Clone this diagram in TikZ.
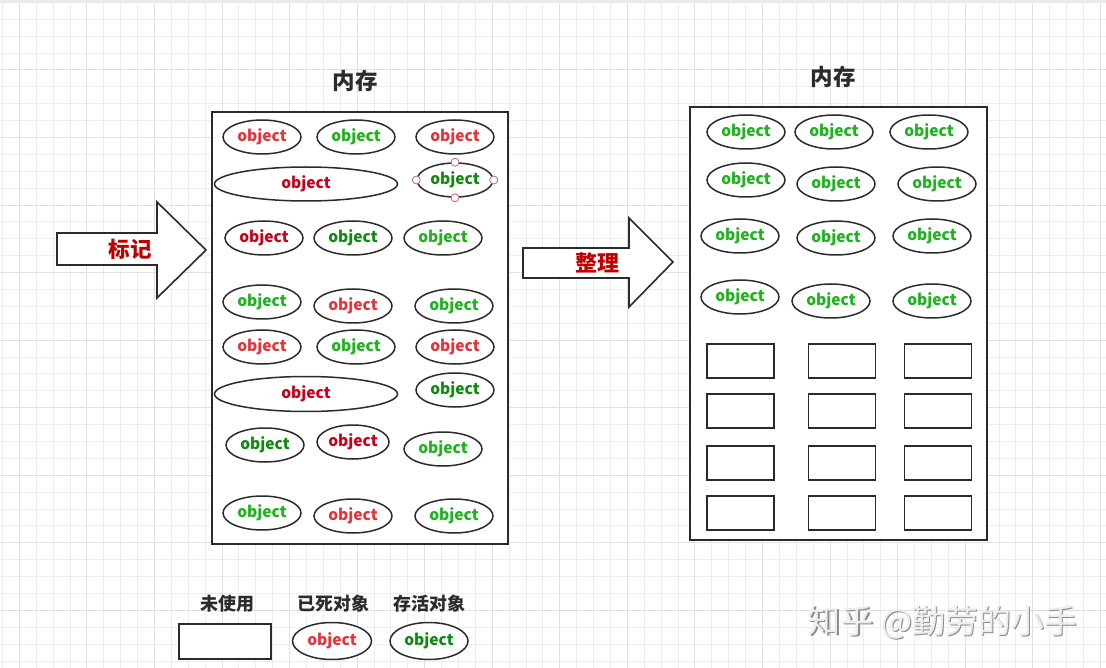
\documentclass[tikz,border=0pt]{standalone}
\usepackage{fontspec}
\setmainfont{Noto Sans CJK SC}
\usetikzlibrary{shapes.geometric}
\definecolor{deadred}{HTML}{E3343C}
\definecolor{deaddark}{HTML}{C8001A}
\definecolor{livegreen}{HTML}{1DB31D}
\definecolor{livedark}{HTML}{0F8A0F}
\definecolor{markred}{HTML}{C00000}
\definecolor{inkgray}{HTML}{2B2B2B}
\tikzset{
  gridminor/.style={draw=black!7,line width=0.8pt},
  gridmajor/.style={draw=black!12,line width=0.9pt},
  obj/.style={ellipse,draw=inkgray,line width=1.5pt,fill=white,minimum width=78pt,
    minimum height=34pt,inner sep=0pt,font=\fontsize{15.5}{15.5}\selectfont\bfseries},
  dead/.style={obj,text=deadred},
  deaddk/.style={obj,text=deaddark},
  live/.style={obj,text=livegreen},
  livedk/.style={obj,text=livedark},
  slot/.style={draw=inkgray,line width=1.5pt,fill=white,minimum width=67pt,
    minimum height=34pt,inner sep=0pt},
  membox/.style={draw=inkgray,line width=1.8pt,fill=white},
  bigarrow/.style={draw=inkgray,line width=1.6pt,fill=white,line join=miter},
  handle/.style={circle,draw=black!40!red!60,fill=white,line width=0.8pt,
    minimum size=8pt,inner sep=0pt},
  title/.style={text=inkgray,font=\fontsize{22.5}{22.5}\selectfont\bfseries},
  legend/.style={text=inkgray,font=\fontsize{18}{18}\selectfont\bfseries}
}
\begin{document}
\begin{tikzpicture}[x=1pt,y=-1pt]
  \useasboundingbox (0,0) rectangle (1106,668);
  \fill[white] (0,0) rectangle (1106,668);
  \foreach \k in {0,...,65} \draw[gridminor] ({2.4+16.89*\k},0) -- ++(0,668);
  \foreach \k in {0,...,39} \draw[gridminor] (0,{2.3+16.89*\k}) -- ++(1106,0);
  \foreach \k in {0,...,16} \draw[gridmajor] ({19.3+67.56*\k},0) -- ++(0,668);
  \foreach \k in {0,...,9} \draw[gridmajor] (0,{2.3+67.56*\k}) -- ++(1106,0);
  \fill[black!8] (0,0) rectangle (1106,3.5);

  % before
  \node[title] (t1) at (355,81) {内存};
  \draw[membox] (212,112) rectangle (508,544);
  \foreach \n/\x/\y/\s in {a1/262/137/dead, a2/356/137/live, a3/455/137/dead,
      c1/264/238/deaddk, c2/353/238/livedk, c3/443/238/live,
      d1/262/302/live, d2/353/306/dead, d3/454/306/live,
      e1/262/347/dead, e2/356/347/live, e3/455/347/dead,
      f2/455/390/livedk,
      g1/265/445/livedk, g3/443/449/live,
      h1/262/513/live, h2/353/516/dead, h3/454/516/live}
    \node[\s] (\n) at (\x,\y) {object};
  \node[deaddk,minimum width=183pt] (b1) at (306,184) {object};
  \node[livedk,minimum width=76pt] (b2) at (455,180) {object};
  \node[deaddk,minimum width=183pt,minimum height=35pt] (f1) at (306,394) {object};
  \node[deaddk,minimum width=72pt] (g2) at (353,442) {object};
  \foreach \a in {north,south,east,west} \node[handle] at (b2.\a) {};

  % after
  \node[title] (t2) at (833,77) {内存};
  \draw[membox] (690,107) rectangle (987,540);
  \foreach \n/\x/\y in {p1/746/132, p2/834/132, p3/929/132,
      q1/746/180, q2/836/184, q3/937/184,
      r1/740/236, r2/836/238, r3/932/236,
      s1/740/297, s2/831/301, s3/932/301}
    \node[live] (\n) at (\x,\y) {object};
  \foreach \x [count=\i] in {740.5,842,938}
    \foreach \y [count=\j] in {361,411,463,513}
      \node[slot] (u\i\j) at (\x,\y) {};

  % arrows
  \draw[bigarrow] (57,233) -- (157,233) -- (157,202) -- (206,250) -- (157,298)
    -- (157,265) -- (57,265) -- cycle;
  \node[text=markred,font=\fontsize{21.5}{21.5}\selectfont\bfseries] (mark) at (130,249) {标记};
  \draw[bigarrow] (523,248) -- (629,248) -- (629,218) -- (673,262) -- (629,307)
    -- (629,278) -- (523,278) -- cycle;
  \node[text=markred,font=\fontsize{22}{22}\selectfont\bfseries] (tidy) at (597,263) {整理};

  % legend
  \node[legend] (l1) at (227,604) {未使用};
  \node[legend] (l2) at (333,604) {已死对象};
  \node[legend] (l3) at (429,604) {存活对象};
  \node[slot,minimum width=92pt,minimum height=35pt] (k1) at (225,641.5) {};
  \node[dead,minimum width=79pt,minimum height=37pt] (k2) at (332,641) {object};
  \node[livedk,minimum width=78pt,minimum height=37pt] (k3) at (429,641) {object};

  % watermark
  \node[text=black!45,font=\fontsize{33}{33}\selectfont] at (943.8,623.8) {知乎 @勤劳的小手};
  \node[text=black!7,font=\fontsize{33}{33}\selectfont] (wm) at (942.5,622.5) {知乎 @勤劳的小手};
\end{tikzpicture}
\end{document}
